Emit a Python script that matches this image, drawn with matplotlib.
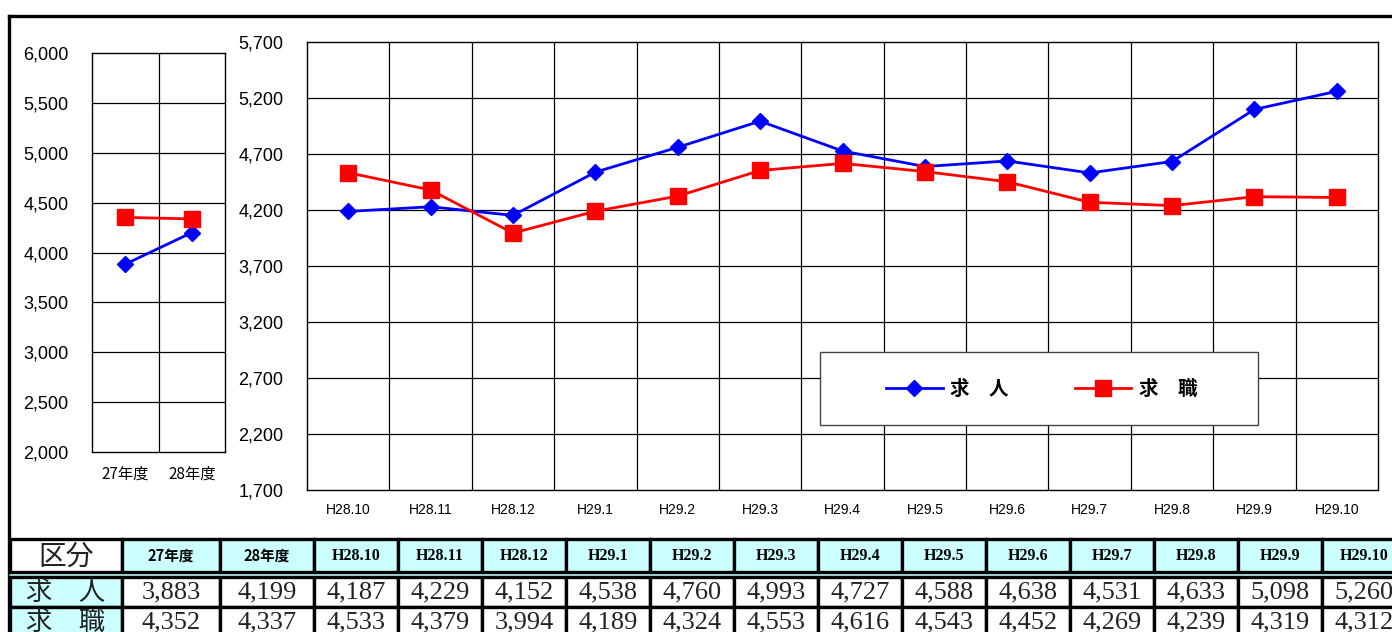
import matplotlib
matplotlib.use("Agg")
import matplotlib.pyplot as plt
from matplotlib.patches import Rectangle
from matplotlib.ticker import FuncFormatter

plt.rcParams['font.family'] = ['Liberation Sans', 'Noto Sans CJK JP']

# データ
year_labels = ['27年度', '28年度']
month_labels = ['H28.10', 'H28.11', 'H28.12', 'H29.1', 'H29.2', 'H29.3', 'H29.4',
                'H29.5', 'H29.6', 'H29.7', 'H29.8', 'H29.9', 'H29.10']
kyujin_year = [3883, 4199]
kyushoku_year = [4352, 4337]
kyujin_month = [4187, 4229, 4152, 4538, 4760, 4993, 4727, 4588, 4638, 4531, 4633, 5098, 5260]
kyushoku_month = [4533, 4379, 3994, 4189, 4324, 4553, 4616, 4543, 4452, 4269, 4239, 4319, 4312]
series_names = ['求　人', '求　職']
row_header = '区分'

W, H = 1392, 632
BLUE = '#0000FF'
RED = '#FF0000'
CYAN = '#CCFFFF'

fig = plt.figure(figsize=(W / 100, H / 100), dpi=100)

# 枠と表 (ピクセル座標のオーバーレイ)
ov = fig.add_axes([0, 0, 1, 1])
ov.set_xlim(0, W)
ov.set_ylim(H, 0)
ov.axis('off')
ov.plot([8.5, 8.5], [H, 15.5], color='black', lw=2.4, solid_capstyle='projecting')
ov.plot([8.5, W], [15.5, 15.5], color='black', lw=2.4, solid_capstyle='projecting')

col_edges = [10, 122, 220, 314] + [314 + 84 * k for k in range(1, len(month_labels) + 1)]
head_top, head_bot = 539, 572
r1_top, r1_bot = 577, 607
r2_top, r2_bot = 607, 645

headers = [row_header] + year_labels + month_labels
row1 = [series_names[0]] + [f'{v:,}' for v in kyujin_year + kyujin_month]
row2 = [series_names[1]] + [f'{v:,}' for v in kyushoku_year + kyushoku_month]

lw_tab = 2.4
for i, txt in enumerate(headers):
    x0, x1 = col_edges[i], col_edges[i + 1]
    fc = 'white' if i == 0 else CYAN
    ov.add_patch(Rectangle((x0, head_top), x1 - x0, head_bot - head_top,
                           facecolor=fc, edgecolor='black', lw=lw_tab))
    xc = (x0 + x1) / 2
    if i == 0:
        ov.text(xc, (head_top + head_bot) / 2 + 1, txt, ha='center', va='center',
                fontsize=20, family='Noto Sans CJK JP', color='#222222')
    elif i <= 2:
        ov.text(xc, (head_top + head_bot) / 2, txt, ha='center', va='center',
                fontsize=10.5, fontweight='bold', family='Noto Sans CJK JP')
    else:
        ov.text(xc, (head_top + head_bot) / 2, txt, ha='center', va='center',
                fontsize=11.5, fontweight='bold', family='Liberation Serif')

# 二重線
ov.plot([10, W], [574.5, 574.5], color='#99CCCC', lw=1.2)
ov.plot([10, W], [576.5, 576.5], color='black', lw=1.5)

for (top, bot, vals) in [(r1_top, r1_bot, row1), (r2_top, r2_bot, row2)]:
    for i, txt in enumerate(vals):
        x0, x1 = col_edges[i], col_edges[i + 1]
        fc = CYAN if i == 0 else 'white'
        ov.add_patch(Rectangle((x0, top), x1 - x0, bot - top,
                               facecolor=fc, edgecolor='black', lw=lw_tab))
        xc = (x0 + x1) / 2
        if i == 0:
            ov.text(xc, top + 15, txt, ha='center', va='center', fontsize=19,
                    family='Noto Sans CJK JP', color='#222222')
        else:
            ov.text(xc, top + 15, txt, ha='center', va='center', fontsize=19,
                    family='Liberation Serif', color='#222222')

fmt = FuncFormatter(lambda v, p: f'{int(v):,}')

# 左: 年度
ax1 = fig.add_axes([92 / W, (H - 452) / H, 133 / W, 399 / H])
ax1.plot(range(len(year_labels)), kyujin_year, color=BLUE, lw=2, marker='D', ms=8, zorder=3)
ax1.plot(range(len(year_labels)), kyushoku_year, color=RED, lw=2, marker='s', ms=11, zorder=3)
ax1.set_xlim(-0.5, len(year_labels) - 0.5)
ax1.set_ylim(2000, 6000)
ax1.set_yticks(range(2000, 6001, 500))
ax1.yaxis.set_major_formatter(fmt)
ax1.set_xticks(range(len(year_labels)))
ax1.set_xticklabels(year_labels, fontsize=11, family='Noto Sans CJK JP')
ax1.tick_params(axis='y', length=0, pad=17, labelsize=13)
ax1.tick_params(axis='x', length=0, pad=10)
for y in range(2500, 6000, 500):
    ax1.axhline(y, color='black', lw=0.9, zorder=1)
ax1.axvline(0.5, color='black', lw=0.9, zorder=1)
for s in ax1.spines.values():
    s.set_linewidth(1.0)

# 右: 月次
ax2 = fig.add_axes([307 / W, (H - 490) / H, (1378 - 307) / W, 448 / H])
xm = range(len(month_labels))
l1, = ax2.plot(xm, kyujin_month, color=BLUE, lw=2, marker='D', ms=8, zorder=3)
l2, = ax2.plot(xm, kyushoku_month, color=RED, lw=2, marker='s', ms=11, zorder=3)
ax2.set_xlim(-0.5, len(month_labels) - 0.5)
ax2.set_ylim(1700, 5700)
ax2.set_yticks(range(1700, 5701, 500))
ax2.yaxis.set_major_formatter(fmt)
ax2.set_xticks(xm)
ax2.set_xticklabels(month_labels, fontsize=10)
ax2.tick_params(axis='y', length=0, pad=17, labelsize=13)
ax2.tick_params(axis='x', length=0, pad=9)
for y in range(2200, 5700, 500):
    ax2.axhline(y, color='black', lw=0.9, zorder=1)
for k in range(len(month_labels) - 1):
    ax2.axvline(k + 0.5, color='black', lw=0.9, zorder=1)
for s in ax2.spines.values():
    s.set_linewidth(1.0)

# 凡例
box = Rectangle((820 / W, (H - 425) / H), 438 / W, 73 / H, transform=fig.transFigure,
                facecolor='white', edgecolor='#444444', lw=1.0, zorder=4, clip_on=False)
ax2.add_patch(box)
ax2.legend([l1, l2], series_names, loc='center', ncol=2, frameon=False,
           bbox_to_anchor=((820 + 222) / W, (H - 389) / H), bbox_transform=fig.transFigure,
           prop={'family': 'Noto Sans CJK JP', 'size': 14, 'weight': 'bold'},
           handlelength=2.9, handletextpad=0.4, columnspacing=3.4)

fig.savefig('out.png', dpi=100)
